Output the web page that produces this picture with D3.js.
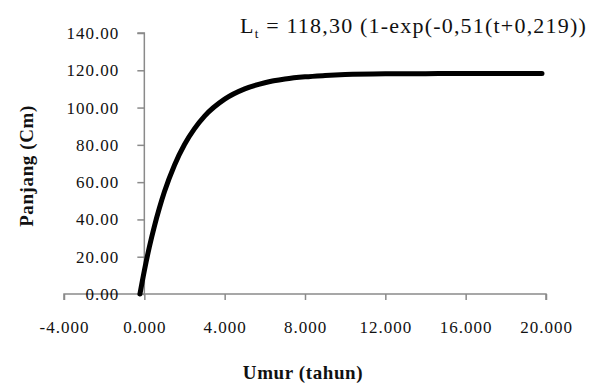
<!DOCTYPE html>
<html>
<head>
<meta charset="utf-8">
<script src="https://cdn.jsdelivr.net/npm/d3@7"></script>
<style>
  body { margin: 0; background: #fff; }
  text { font-family: "Liberation Serif", "Times New Roman", serif; fill: #111; }
  .axis path, .axis line { stroke: #8a8a8a; stroke-width: 1.5; }
  .axis text { font-size: 17px; letter-spacing: 1px; }
  .label { font-size: 19px; font-weight: bold; letter-spacing: 0.6px; }
</style>
</head>
<body>
<div id="chart"></div>
<script>
// umur (tahun) and panjang (cm)
const ages = [-0.219, 0, 0.25, 0.5, 0.75, 1, 1.5, 2, 2.5, 3, 4, 5, 6, 7, 8, 9, 10, 12, 14, 16, 18, 19.8];
const lengths = [0, 12.5, 25.2, 36.3, 46.1, 54.8, 69.1, 80.2, 88.7, 95.4, 104.5, 110.0, 113.3, 115.3, 116.5, 117.2, 117.7, 118.1, 118.2, 118.3, 118.3, 118.3];
const xTicks = [-4, 0, 4, 8, 12, 16, 20];
const yTicks = [0, 20, 40, 60, 80, 100, 120, 140];

const width = 593, height = 384;
const margin = { top: 33, right: 47, bottom: 90, left: 64 };

const svg = d3.select('#chart')
  .append('svg')
  .attr('width', width)
  .attr('height', height);

const x = d3.scaleLinear().domain([-4, 20]).range([margin.left, width - margin.right]);
const y = d3.scaleLinear().domain([0, 140]).range([height - margin.bottom, margin.top]);

const hyphen = f => d => f(d).replace('\u2212', '-');

// x axis
svg.append('g')
  .attr('class', 'axis axis-x')
  .attr('transform', `translate(0, ${y(0)})`)
  .call(d3.axisBottom(x).tickValues(xTicks).tickSize(6).tickPadding(21).tickFormat(hyphen(d3.format('.3f'))))
  .call(g => g.select('.domain').attr('d', `M${x(-4)},6V0H${x(20)}V6`));

// y axis
svg.append('g')
  .attr('class', 'axis axis-y')
  .attr('transform', `translate(${x(0)}, 0)`)
  .call(d3.axisLeft(y).tickValues(yTicks).tickSize(7).tickPadding(18).tickFormat(d3.format('.2f')))
  .call(g => g.select('.domain').attr('d', `M-7,${y(140)}H0V${y(0)}`));

// growth curve
const data = ages.map((t, i) => ({ t: t, len: lengths[i] }));
svg.append('path')
  .datum(data)
  .attr('fill', 'none')
  .attr('stroke', '#000')
  .attr('stroke-width', 5)
  .attr('stroke-linecap', 'round')
  .attr('d', d3.line().x(d => x(d.t)).y(d => y(d.len)).curve(d3.curveMonotoneX));

// axis titles
svg.append('text')
  .attr('class', 'label')
  .attr('x', 303)
  .attr('y', 379)
  .attr('text-anchor', 'middle')
  .text('Umur (tahun)');

svg.append('text')
  .attr('class', 'label')
  .attr('transform', 'translate(33, 166) rotate(-90)')
  .attr('text-anchor', 'middle')
  .text('Panjang (Cm)');

// equation
const eq = svg.append('text')
  .attr('x', 240)
  .attr('y', 33)
  .style('font-size', '22px')
  .style('letter-spacing', '1.2px');
eq.append('tspan').text('L');
eq.append('tspan').attr('dy', 5).style('font-size', '13px').text('t');
eq.append('tspan').attr('dy', -5).text(' = 118,30 (1-exp(-0,51(t+0,219))');
</script>
</body>
</html>
